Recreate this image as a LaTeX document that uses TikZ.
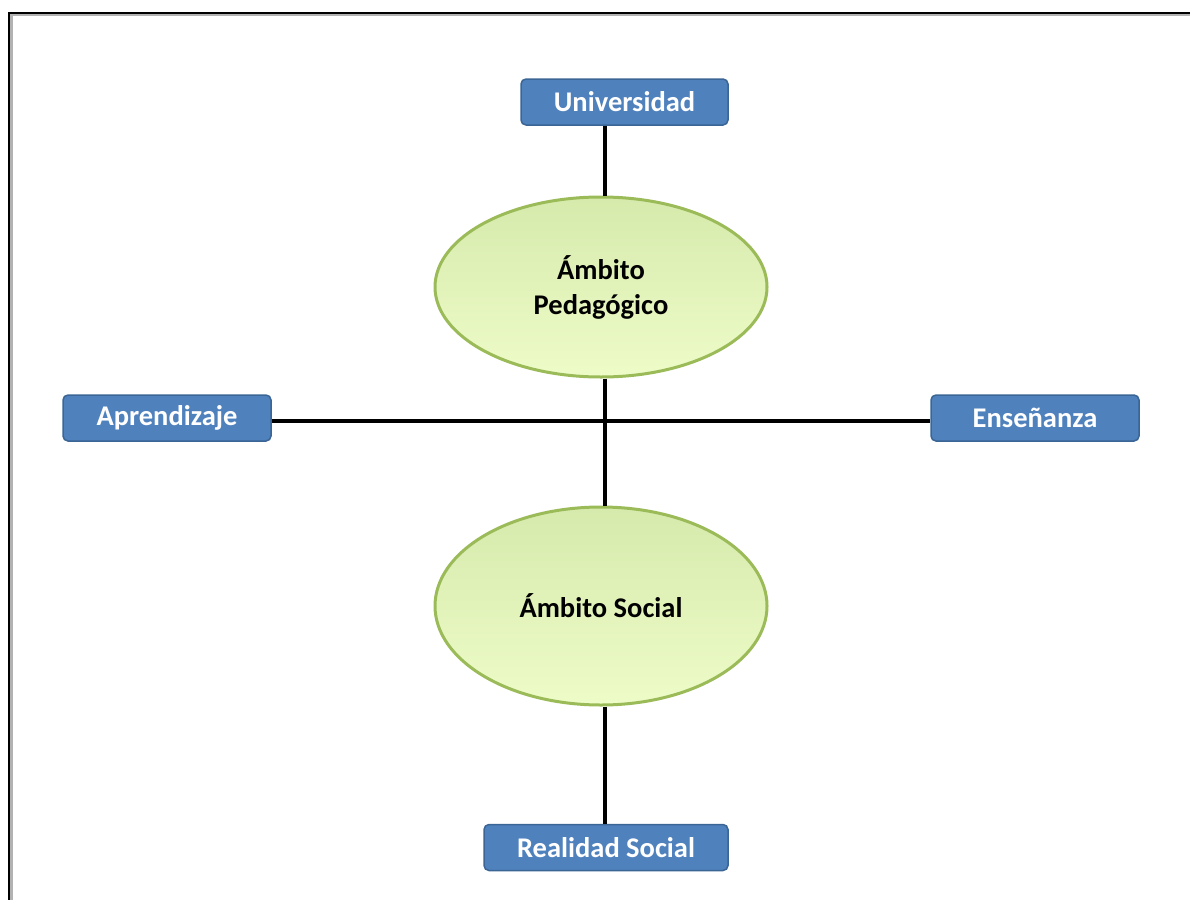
\documentclass[tikz,border=0pt]{standalone}
\usepackage{fontspec}
\setmainfont{Carlito}
\usetikzlibrary{shapes.geometric}
\definecolor{boxfill}{HTML}{4F81BD}
\definecolor{boxline}{HTML}{3A6595}
\definecolor{ellline}{HTML}{9BBB59}
\definecolor{elltop}{HTML}{D6EAAC}
\definecolor{ellbot}{HTML}{EEFCC8}
\tikzset{
  bluebox/.style={draw=boxline, line width=1.5pt, fill=boxfill, rounded corners=5pt,
    text=white, font=\fontsize{28.5}{32}\selectfont\bfseries,
    minimum height=46pt, inner sep=0pt},
  greenell/.style={ellipse, draw=ellline, line width=3pt, top color=elltop, bottom color=ellbot,
    font=\fontsize{28.5}{35}\selectfont\bfseries, align=center, inner sep=0pt},
  link/.style={line width=3.5pt, black}
}
\begin{document}
\begin{tikzpicture}[x=1pt, y=-1pt]
\useasboundingbox (0,0) rectangle (1190,899);
% outer frame, open to the right and bottom
\draw[line width=3pt, gray!60] (11,905) -- (11,15) -- (1195,15);
\draw[line width=2.5pt, black] (9,905) -- (9,13) -- (1195,13);

\node[bluebox, minimum width=207pt] (uni) at (624.5,102) {Universidad};
\node[bluebox, minimum width=208pt] (apr) at (167,418) {Aprendizaje};
\node[bluebox, minimum width=208pt] (ens) at (1035,418) {Enseñanza};
\node[bluebox, minimum width=244pt] (real) at (606,847.5) {Realidad Social};

\node[greenell, minimum width=332pt, minimum height=180pt] (ped) at (601,287) {Ámbito\\Pedagógico};
\node[greenell, minimum width=332pt, minimum height=198pt] (soc) at (601,606) {Ámbito Social};

\coordinate (axis) at (605,0);
\draw[link] (uni.south -| axis) -- (ped.north -| axis);
\draw[link] (ped.south -| axis) -- (soc.north -| axis);
\draw[link] (soc.south -| axis) -- (real.north -| axis);
\draw[link] (apr.east |- 0,421) -- (ens.west |- 0,421);
\end{tikzpicture}
\end{document}
